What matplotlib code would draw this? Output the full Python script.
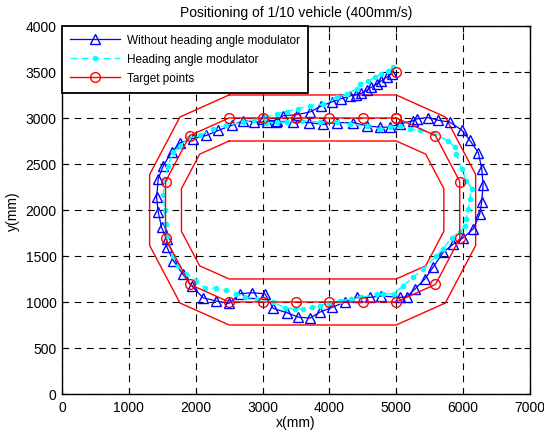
import matplotlib
matplotlib.use("Agg")
import matplotlib.pyplot as plt

plt.rcParams['font.family'] = ['Liberation Sans', 'DejaVu Sans']

# ---- data (mm) ----
target_x = [5000, 4500, 4000, 3500, 3000, 2500, 1912, 1549, 1549, 1912, 2500, 3000,
            3500, 4000, 4500, 5000, 5588, 5951, 5951, 5588, 5000]
target_y = [3000, 3000, 3000, 3000, 3000, 3000, 2809, 2309, 1691, 1191, 1000, 1000,
            1000, 1000, 1000, 1000, 1191, 1691, 2309, 2809, 3000]
start_x = [5000]
start_y = [3500]

outer_x = [2500, 5000, 5735, 6189, 6189, 5735, 5000, 2500, 1765, 1311, 1311, 1765, 2500]
outer_y = [3250, 3250, 3011, 2386, 1614, 989, 750, 750, 989, 1614, 2386, 3011, 3250]
inner_x = [2500, 5000, 5441, 5713, 5713, 5441, 5000, 2500, 2059, 1787, 1787, 2059, 2500]
inner_y = [2750, 2750, 2607, 2232, 1768, 1393, 1250, 1250, 1393, 1768, 2232, 2607, 2750]

without_x = [4930, 4860, 4780, 4710, 4630, 4560, 4480, 4400, 4310, 4180, 4040, 3880,
             3710, 3510, 3310, 3210, 3060, 2880, 2710, 2540, 2340, 2160, 1960, 1770,
             1640, 1515, 1440, 1415, 1440, 1490, 1565, 1570, 1665, 1810, 1940, 2110,
             2310, 2500, 2660, 2840, 3035, 3160, 3360, 3535, 3710, 3860, 4035, 4235,
             4410, 4610, 4780, 5055, 5155, 5280, 5430, 5555, 5705, 5855, 6005, 6155,
             6250, 6280, 6300, 6280, 6230, 6100, 5980, 5800, 5630, 5480, 5305, 5250,
             5055, 4905, 4760, 4560, 4360, 4110, 3900, 3700, 3450, 3200, 3010]
without_y = [3480, 3445, 3405, 3370, 3335, 3300, 3270, 3255, 3240, 3210, 3175, 3130,
             3065, 3035, 3025, 2970, 2955, 2960, 2970, 2920, 2865, 2810, 2775, 2730,
             2630, 2480, 2340, 2140, 1975, 1810, 1685, 1595, 1450, 1300, 1175, 1045,
             1010, 985, 1090, 1100, 1090, 930, 885, 835, 825, 890, 940, 1000,
             1050, 1050, 1065, 1050, 1055, 1140, 1250, 1380, 1540, 1630, 1700, 1795,
             1955, 2090, 2270, 2450, 2620, 2760, 2870, 2955, 2975, 3005, 2990, 2970,
             2935, 2900, 2900, 2915, 2950, 2950, 2930, 2950, 2960, 2960, 2990]

with_x = [4955, 4880, 4780, 4680, 4580, 4460, 4410, 4260, 4110, 3910, 3710, 3535,
          3360, 3210, 3035, 2870, 2710, 2460, 2260, 2060, 1890, 1765, 1665, 1590,
          1540, 1515, 1535, 1550, 1565, 1665, 1740, 1860, 2010, 2140, 2300, 2460,
          2610, 2740, 2910, 3160, 3335, 3485, 3610, 3735, 3860, 4000, 4160, 4320,
          4480, 4710, 4810, 4960, 5105, 5255, 5405, 5600, 5700, 5830, 5950, 6030,
          6050, 6080, 6100, 6130, 6050, 5980, 5900, 5880, 5780, 5550, 5355, 5205,
          5055, 4900, 4760, 4560, 4310, 4110, 3860, 3585, 3360, 3210, 3050]
with_y = [3550, 3515, 3480, 3440, 3405, 3370, 3315, 3260, 3225, 3150, 3135, 3100,
          3070, 3045, 3005, 2975, 2955, 2920, 2880, 2810, 2780, 2700, 2630, 2480,
          2340, 2160, 2000, 1850, 1720, 1500, 1395, 1305, 1230, 1150, 1150, 1125,
          1090, 1050, 1035, 1000, 935, 925, 925, 940, 960, 990, 1015, 1030,
          1050, 1085, 1087, 1090, 1175, 1270, 1360, 1500, 1575, 1700, 1760, 1830,
          1900, 2010, 2120, 2230, 2320, 2445, 2610, 2680, 2750, 2840, 2865, 2880,
          2915, 2900, 2880, 2910, 2935, 2955, 2955, 2970, 2955, 2955, 2950]

xticks = [0, 1000, 2000, 3000, 4000, 5000, 6000, 7000]
yticks = [0, 500, 1000, 1500, 2000, 2500, 3000, 3500, 4000]

fig = plt.figure(figsize=(5.44, 4.35), dpi=100)
ax = fig.add_axes([0.114, 0.092, 0.86, 0.846])

ax.plot(outer_x, outer_y, color='red', lw=1.0)
ax.plot(inner_x, inner_y, color='red', lw=1.0)

l1, = ax.plot(without_x, without_y, color='blue', lw=0.9, marker='^', mfc='none',
              mec='blue', ms=7, mew=1.0, label='Without heading angle modulator')
l2, = ax.plot(with_x, with_y, color='cyan', lw=1.0, ls=(0, (5, 3)), marker='.',
              ms=6, mfc='cyan', mec='cyan', label='Heading angle modulator')
l3, = ax.plot(target_x, target_y, color='red', lw=1.0, marker='o', mfc='none',
              mec='red', ms=7, mew=1.0, label='Target points')
ax.plot(start_x, start_y, ls='none', marker='o', mfc='none', mec='red', ms=7, mew=1.0)

ax.set_xlim(0, 7000)
ax.set_ylim(0, 4000)
ax.set_xticks(xticks)
ax.set_yticks(yticks)
ax.tick_params(direction='in', top=True, right=True, labelsize=10, length=4, pad=4)
ax.grid(True, color='black', ls=(0, (6, 5)), lw=0.8)
ax.set_axisbelow(True)
for s in ax.spines.values():
    s.set_linewidth(1.0)

ax.set_xlabel('x(mm)', fontsize=10, labelpad=1)
ax.set_ylabel('y(mm)', fontsize=10, labelpad=4)
ax.set_title('Positioning of 1/10 vehicle (400mm/s)', fontsize=10, pad=7)

leg = ax.legend(handles=[l1, l2, l3], loc='upper left', fontsize=8.5, fancybox=False,
                framealpha=1, edgecolor='black', borderaxespad=0, handlelength=4.2,
                handletextpad=0.6, borderpad=0.7, labelspacing=0.6)
leg.get_frame().set_linewidth(1.3)

fig.savefig('out.png', dpi=100)
